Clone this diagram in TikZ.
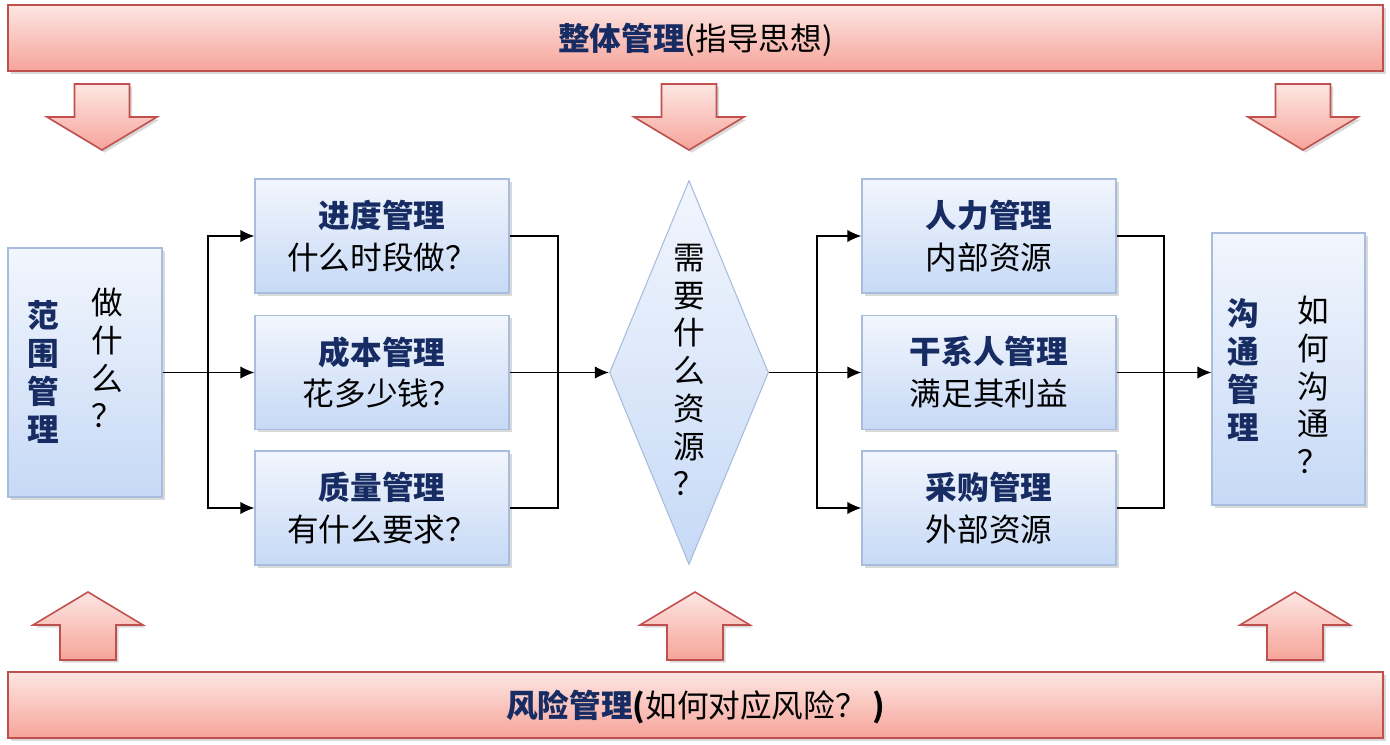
\documentclass[tikz,border=0pt]{standalone}
\usepackage{fontspec}
\setmainfont{Noto Sans CJK SC}
\usetikzlibrary{shapes.geometric,shadows,arrows.meta}
\definecolor{navy}{RGB}{24,44,100}
\definecolor{pinkline}{RGB}{192,80,77}
\definecolor{pinktop}{RGB}{253,230,226}
\definecolor{pinkbot}{RGB}{246,164,154}
\definecolor{bluetop}{RGB}{242,246,253}
\definecolor{bluebot}{RGB}{198,217,246}
\definecolor{blueline}{RGB}{168,188,222}
\tikzset{
  softshadow/.style={drop shadow={shadow xshift=1.5pt,shadow yshift=-1.5pt,opacity=.3}},
  band/.style={draw=pinkline,line width=1pt,top color=pinktop,bottom color=pinkbot,
    minimum width=27.5cm,minimum height=1.32cm,inner sep=0pt,softshadow,
    font=\fontsize{18}{22}\selectfont},
  bigarrow/.style={draw=pinkline,line width=.9pt,top color=pinktop,bottom color=pinkbot,softshadow},
  task/.style={draw=blueline,line width=.6pt,top color=bluetop,bottom color=bluebot,
    minimum width=5.08cm,minimum height=2.28cm,inner sep=0pt,align=center,softshadow,
    font=\fontsize{18}{23.8}\selectfont},
  tallbox/.style={task,minimum width=3.08cm},
  vtext/.style={align=center,inner sep=0pt,font=\fontsize{18}{21.5}\selectfont},
  link/.style={line width=.8pt}
}
\newcommand{\hd}[1]{{\bfseries\color{navy}#1}}
\begin{document}
\begin{tikzpicture}[>={Latex[length=8pt,width=7pt]},x=1cm,y=1cm]
\useasboundingbox (0,0) rectangle (27.8,14.88);
% bands
\node[band] (zt) at (13.91,14.12) {};
\node at (13.91,14.08) {\fontsize{18}{22}\selectfont\hd{整体管理}(指导思想)};
\node[band] (fx) at (13.91,0.78) {};
\node at (13.91,0.74) {\fontsize{18}{22}\selectfont\hd{风险管理}{\bfseries (}如何对应风险？{\bfseries\,)}};
\foreach \x in {2.04,13.78,26.06}
  \draw[bigarrow] ({\x-0.55},13.2) -- ({\x+0.55},13.2) -- ({\x+0.55},12.54) -- ({\x+1.1},12.54)
    -- (\x,11.88) -- ({\x-1.1},12.54) -- ({\x-0.55},12.54) -- cycle;
\foreach \x in {1.76,13.9,25.9}
  \draw[bigarrow] ({\x-0.56},1.68) -- ({\x+0.56},1.68) -- ({\x+0.56},2.38) -- ({\x+1.1},2.38)
    -- (\x,3.04) -- ({\x-1.1},2.38) -- ({\x-0.56},2.38) -- cycle;
% scope
\node[tallbox,minimum height=4.98cm] (fw) at (1.70,7.43) {};
\node[vtext] at (0.86,7.44) {\hd{范}\\\hd{围}\\\hd{管}\\\hd{理}};
\node[vtext] at (2.14,7.72) {做\\什\\么\\？};
% time, cost, quality
\node[task] (jd) at (7.64,10.16) {\hd{进度管理}\\什么时段做？};
\node[task] (cb) at (7.64,7.43) {\hd{成本管理}\\花多少钱？};
\node[task] (zl) at (7.64,4.72) {\hd{质量管理}\\有什么要求？};
% resources
\node[diamond,draw=blueline,line width=.6pt,top color=bluetop,bottom color=bluebot,
  minimum width=3.18cm,minimum height=7.68cm,inner sep=0pt] (zy) at (13.78,7.43) {};
\node[vtext] at (13.78,7.48) {需\\要\\什\\么\\资\\源\\？};
\node[task] (rl) at (19.78,10.16) {\hd{人力管理}\\内部资源};
\node[task] (gx) at (19.78,7.43) {\hd{干系人管理}\\满足其利益};
\node[task] (cg) at (19.78,4.72) {\hd{采购管理}\\外部资源};
% communication
\node[tallbox,minimum width=3.06cm,minimum height=5.44cm] (gt) at (25.77,7.50) {};
\node[vtext] at (24.86,7.48) {\hd{沟}\\\hd{通}\\\hd{管}\\\hd{理}};
\node[vtext] at (26.26,7.18) {如\\何\\沟\\通\\？};
% links
\coordinate (b1) at (4.16,7.43);
\coordinate (b2) at (11.16,7.43);
\coordinate (b3) at (16.34,7.43);
\coordinate (b4) at (23.28,7.43);
\draw[link,->] (fw.east) -- (cb.west);
\draw[link,->] (b1) |- (jd.west);
\draw[link,->] (b1) |- (zl.west);
\draw[link] (jd.east) -| (b2) |- (zl.east);
\draw[link,->] (cb.east) -- (zy.west);
\draw[link,->] (zy.east) -- (gx.west);
\draw[link,->] (b3) |- (rl.west);
\draw[link,->] (b3) |- (cg.west);
\draw[link] (rl.east) -| (b4) |- (cg.east);
\draw[link,->] (gx.east) -- (gx.east -| gt.west);
\end{tikzpicture}
\end{document}
